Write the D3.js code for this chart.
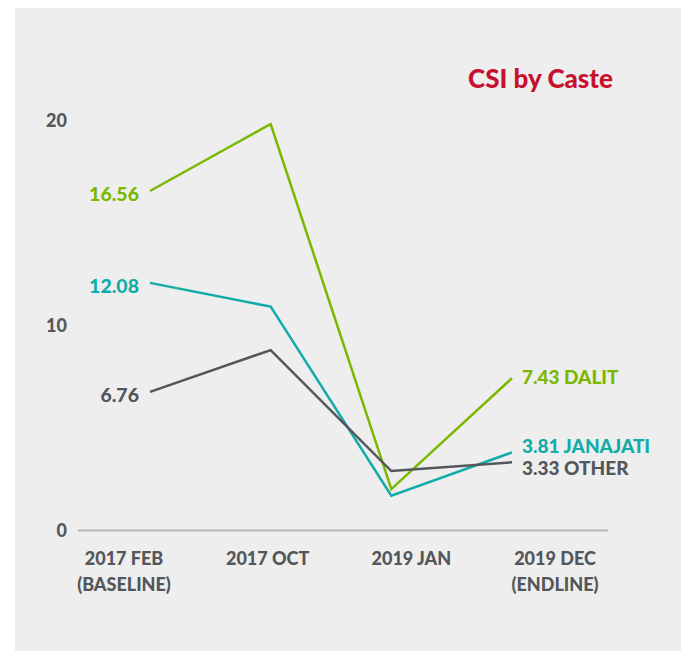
<!DOCTYPE html>
<html>
<head>
<meta charset="utf-8">
<script src="https://cdn.jsdelivr.net/npm/d3@7"></script>
<style>
html,body{margin:0;padding:0;background:#fff;}
svg{display:block;}
text{font-family:"Lato","Open Sans",sans-serif;font-weight:900;}
</style>
</head>
<body>
<svg id="chart" width="681" height="651"></svg>
<script>
const categories = ["2017 FEB|(BASELINE)", "2017 OCT", "2019 JAN", "2019 DEC|(ENDLINE)"];
const dalit    = [16.56, 19.83, 2.02, 7.43];
const janajati = [12.08, 10.92, 1.70, 3.81];
const other    = [6.76, 8.80, 2.90, 3.33];
const seriesNames = ["DALIT", "JANAJATI", "OTHER"];
const yTicks = [0, 10, 20];
const title = "CSI by Caste";

const colors = {DALIT:"#7ab800", JANAJATI:"#12aca8", OTHER:"#53565a"};
const textGray = "#53565a";

const svg = d3.select("#chart");
svg.append("rect").attr("x",15).attr("y",8).attr("width",666).attr("height",643).attr("fill","#eeeeee");

const y = d3.scaleLinear().domain([0,20]).range([530.5,120.5]);
const xPts = d3.scalePoint().domain(categories).range([150,512]);
const xLab = d3.scalePoint().domain(categories).range([124,555]);

// baseline
svg.append("line").attr("x1",78).attr("x2",608).attr("y1",y(0)).attr("y2",y(0))
  .attr("stroke","#b4b7b7").attr("stroke-width",2);

// y tick labels
svg.selectAll(".ytick").data(yTicks).enter().append("text")
  .attr("x",67).attr("y",d=>y(d)).attr("dy","0.35em").attr("text-anchor","end")
  .attr("font-size",18).attr("fill",textGray).text(d=>d);

// x labels
categories.forEach(c=>{
  const parts = c.split("|");
  const t = svg.append("text").attr("text-anchor","middle").attr("font-size",18).attr("fill",textGray);
  parts.forEach((p,i)=>{
    t.append("tspan").attr("x",xLab(c)).attr("y",565+i*26).text(p);
  });
});

const data = [
  {name:"DALIT", values:dalit},
  {name:"JANAJATI", values:janajati},
  {name:"OTHER", values:other}
];
const line = d3.line().x((d,i)=>xPts(categories[i])).y(d=>y(d));
svg.selectAll(".series").data(data).enter().append("path")
  .attr("d",d=>line(d.values)).attr("fill","none")
  .attr("stroke",d=>colors[d.name]).attr("stroke-width",2.5).attr("stroke-linejoin","miter");

// start labels
data.forEach(d=>{
  svg.append("text").attr("x",xPts(categories[0])-11).attr("y",y(d.values[0])+3).attr("dy","0.35em")
    .attr("text-anchor","end").attr("font-size",19.5).attr("fill",colors[d.name])
    .text(d.values[0].toFixed(2));
});
// end labels
const endOffsets = {DALIT:-1, JANAJATI:-6, OTHER:6.5};
data.forEach(d=>{
  const v = d.values[d.values.length-1];
  svg.append("text").attr("x",xPts(categories[3])+10).attr("y",y(v)+endOffsets[d.name]).attr("dy","0.35em")
    .attr("font-size",19).attr("fill",colors[d.name])
    .text(v.toFixed(2)+" "+d.name);
});

// title
svg.append("text").attr("x",613).attr("y",79).attr("dy","0.35em").attr("text-anchor","end")
  .attr("font-size",26).attr("fill","#c8102e").text(title);
</script>
</body>
</html>
